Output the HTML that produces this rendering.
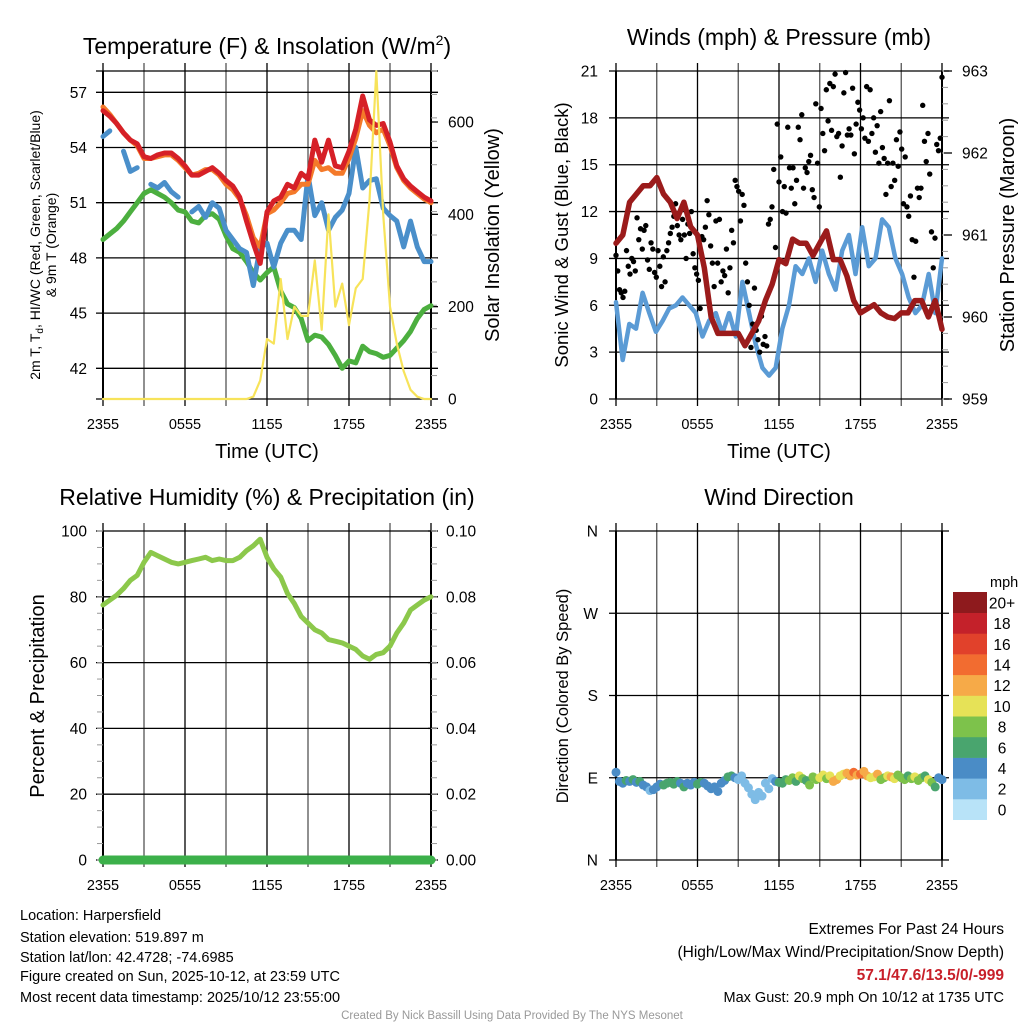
<!DOCTYPE html>
<html><head><meta charset="utf-8"><style>
body{margin:0;background:#fff}
svg{display:block;font-family:"Liberation Sans",Arial,sans-serif}
</style></head><body>
<svg id="s" width="1024" height="1024" viewBox="0 0 1024 1024" xmlns="http://www.w3.org/2000/svg">
<rect width="1024" height="1024" fill="#fff"/>
<text x="267" y="54" font-size="23" text-anchor="middle">Temperature (F) &amp; Insolation (W/m<tspan font-size="14" dy="-9">2</tspan><tspan dy="9">)</tspan></text>
<text x="779" y="45" font-size="23" text-anchor="middle">Winds (mph) &amp; Pressure (mb)</text>
<text x="267" y="505" font-size="23" text-anchor="middle">Relative Humidity (%) &amp; Precipitation (in)</text>
<text x="779" y="505" font-size="23" text-anchor="middle">Wind Direction</text>

<text transform="translate(40,245) rotate(-90)" font-size="14" text-anchor="middle">2m T, T<tspan font-size="10" dy="3">d</tspan><tspan dy="-3">, HI/WC (Red, Green, Scarlet/Blue)</tspan></text>
<text transform="translate(56,245) rotate(-90)" font-size="14" text-anchor="middle">&amp; 9m T (Orange)</text>
<text transform="translate(499,235) rotate(-90)" font-size="20" text-anchor="middle">Solar Insolation (Yellow)</text>
<text transform="translate(568,235) rotate(-90)" font-size="18.5" text-anchor="middle">Sonic Wind &amp; Gust (Blue, Black)</text>
<text transform="translate(1014,235) rotate(-90)" font-size="20" text-anchor="middle">Station Pressure (Maroon)</text>
<text transform="translate(44,696) rotate(-90)" font-size="20" text-anchor="middle">Percent &amp; Precipitation</text>
<text transform="translate(568,696) rotate(-90)" font-size="16.5" text-anchor="middle">Direction (Colored By Speed)</text>
<text x="267" y="458" font-size="20" text-anchor="middle">Time (UTC)</text>
<text x="779" y="458" font-size="20" text-anchor="middle">Time (UTC)</text>

<g font-size="14.5">
<text x="20" y="920">Location: Harpersfield</text>
<text x="20" y="942">Station elevation: 519.897 m</text>
<text x="20" y="962">Station lat/lon: 42.4728; -74.6985</text>
<text x="20" y="981">Figure created on Sun, 2025-10-12, at 23:59 UTC</text>
<text x="20" y="1002">Most recent data timestamp: 2025/10/12 23:55:00</text>
</g>
<g text-anchor="end">
<text x="1004" y="934" font-size="15.5">Extremes For Past 24 Hours</text>
<text x="1004" y="957" font-size="15.5">(High/Low/Max Wind/Precipitation/Snow Depth)</text>
<text x="1004" y="980" font-size="15.5" font-weight="bold" fill="#c8202a">57.1/47.6/13.5/0/-999</text>
<text x="1004" y="1002" font-size="14.5">Max Gust: 20.9 mph On 10/12 at 1735 UTC</text>
</g>
<text x="512" y="1019" font-size="11.5" fill="#999" text-anchor="middle">Created By Nick Bassill Using Data Provided By The NYS Mesonet</text>
<g id="g"></g>
</svg>
<script>
const timeLabels=["2355","0555","1155","1755","2355"];
const tempRed=[56.0,55.7,55.3,54.8,54.4,54.2,53.5,53.4,53.6,53.7,53.7,53.4,53.0,52.5,52.5,52.7,52.9,52.6,52.2,51.9,51.3,50.0,48.8,47.7,50.5,51.1,51.3,52.0,51.8,52.6,52.3,54.4,53.2,54.4,53.0,52.9,53.8,55.0,56.8,55.5,55.2,55.3,54.3,53.0,52.3,51.9,51.6,51.3,51.1];
const tempOrange=[56.2,55.8,55.3,54.8,54.4,54.1,53.4,53.4,53.5,53.6,53.6,53.3,52.9,52.5,52.6,52.8,52.8,52.5,52.0,51.7,51.2,50.3,49.1,48.6,50.4,50.6,51.0,51.5,51.6,52.0,52.0,53.3,52.8,52.9,52.6,52.6,53.4,54.5,56.0,55.2,54.8,55.0,54.1,52.9,52.2,51.8,51.5,51.2,51.0];
const tempBlue=[54.6,54.9,null,53.8,52.7,52.9,null,52.0,51.8,52.1,51.6,51.3,null,50.5,50.8,50.2,51.0,50.7,49.5,49.0,48.5,48.3,46.5,48.6,48.8,47.5,48.8,49.5,49.5,49.0,52.5,50.3,51.0,49.5,50.2,50.6,51.5,54.0,51.8,52.2,52.3,50.7,50.3,50.0,48.6,50.0,48.6,47.8,47.8];
const tempDew=[49.0,49.3,49.6,50.0,50.5,51.0,51.5,51.7,51.5,51.3,51.0,50.6,50.5,50.0,49.9,50.3,50.4,50.1,49.2,48.5,48.3,47.8,47.2,46.8,47.2,47.5,46.2,45.5,45.3,44.7,43.5,43.8,43.7,43.3,42.7,42.0,42.4,42.3,43.2,42.9,42.8,42.6,42.7,43.1,43.5,44.0,44.7,45.2,45.4];
const solar=[0,0,0,0,0,0,0,0,0,0,0,0,0,0,0,0,0,0,0,0,0,0,5,40,130,120,260,130,200,180,180,300,150,400,200,250,160,240,260,430,710,400,200,120,60,20,5,0,0];
const tempTicks=[42,45,48,51,54,57];
const solarTicks=[0,200,400,600];
const windSpd=[6.2,2.5,4.8,4.5,6.8,5.5,4.3,5.0,5.8,6.0,6.5,6.0,5.5,4.0,5.0,5.5,4.2,5.5,4.0,7.5,5.5,3.5,2.0,1.5,2.0,4.5,6.0,8.5,8.0,9.0,7.5,9.5,8.0,7.0,9.5,10.5,8.0,11.0,8.5,9.0,11.5,11.0,9.0,8.0,6.5,5.5,6.0,8.0,5.5,9.0];
const pressure=[960.9,961.0,961.4,961.5,961.6,961.6,961.7,961.5,961.4,961.2,961.4,961.1,961.0,960.6,960.0,959.8,959.8,959.8,959.8,959.65,959.8,959.95,960.2,960.4,960.7,960.65,960.95,960.9,960.9,960.75,960.9,961.05,960.7,960.7,960.5,960.2,960.05,960.1,960.15,960.05,960.0,959.98,960.05,960.05,960.2,960.2,960.0,960.2,959.85];
const gusts=[9.2,8.2,7,6.8,6.5,6.9,9.5,8.5,8.0,9.0,8.8,8.2,11.6,10.2,10.9,9.6,10.8,11.1,8.9,8.3,10.0,9.6,8.1,7.8,9.5,8.5,7.2,9.1,7.5,9.5,10.0,10.6,11.0,11.7,12.5,11.1,10.5,10.2,11.5,10.5,9.0,11.2,10.6,12.0,9.3,8.4,8.0,7.6,5.8,10.4,10.2,11.0,12.7,11.8,9.8,8.7,7.2,11.4,8.7,11.5,7.5,8.2,7.9,9.6,6.8,8.4,10.8,10.0,14.0,13.6,13.3,11.4,13.1,12.4,8.7,7.5,6.0,3.3,4.8,7.1,4.4,3.8,3.0,5.3,3.5,4.0,3.4,11.2,11.5,12.3,14.7,9.7,17.6,13.9,15.5,12.0,13.6,11.9,17.4,14.8,13.5,14.8,12.5,14.0,17.4,16.6,18.2,13.5,14.8,14.5,15.2,15.6,13.4,12.9,18.9,15.1,12.3,18.6,17.0,15.9,19.8,17.8,20.2,17.2,20.0,20.8,16.8,17.0,14.2,16.2,19.6,20.9,16.9,17.3,16.9,19.9,15.7,17.6,19.0,18.5,17.3,18.0,16.7,20.0,16.5,19.8,17.0,18.0,15.8,17.5,15.1,18.4,16.1,15.4,13.1,15.1,19.1,13.6,15.1,14.0,16.6,14.9,17.1,16.0,12.5,15.5,12.3,11.7,13.0,10.2,7.8,10.1,13.5,12.9,13.5,18.8,16.5,15.2,17.0,14.4,10.7,8.4,10.3,16.3,15.9,16.7,20.6];
const windTicks=[0,3,6,9,12,15,18,21];
const pressTicks=[959,960,961,962,963];
const rh=[77.5,79,80.5,82.5,85,86.5,90.5,93.5,92.5,91.5,90.5,90,90.5,91,91.5,92,91,91.5,91,91,92,94,95.5,97.5,92,88.5,86,81,78,74,72,70,69,67,66.5,66,65,64,62,61,62.5,63,65,69,72,76,77.5,79,80];
const precip=[0,0,0,0,0,0,0,0,0,0,0,0,0,0,0,0,0,0,0,0,0,0,0,0,0];
const rhTicks=[0,20,40,60,80,100];
const precipTicks=["0.00","0.02","0.04","0.06","0.08","0.10"];
const windDir=[96,86,84,87,86,88,85,86,82,80,76,77,80,83,82,84,85,83,86,84,80,84,82,85,83,85,84,81,78,80,75,84,87,91,92,90,88,92,84,79,72,66,74,70,84,78,89,86,85,84,88,87,90,86,92,89,87,82,91,88,90,93,89,92,86,88,92,94,95,92,96,93,94,97,92,90,91,94,88,90,92,91,89,93,90,88,92,89,91,87,90,92,88,85,80,90,88];
const dirSpd=[4,5,4,6,5,6,5,6,4,4,3,4,5,6,6,6,6,6,5,6,5,4,5,6,6,5,4,5,4,4,4,5,6,7,5,3,2,2,3,3,2,3,2,2,3,5,6,6,7,8,9,7,10,8,7,8,9,8,10,8,11,13,12,10,11,13,12,14,13,14,13,12,10,11,12,9,8,10,13,10,8,9,7,8,10,9,8,7,10,8,6,5,4];
const dirLabels=["N","E","S","W","N"];
const speedBins=["0","2","4","6","8","10","12","14","16","18","20+"];
const speedColors=["#b8e3f8","#7ebce6","#4a8cc6","#49a56e","#7dc24b","#e6e257","#f6aa48","#f26c30","#e1412b","#c4212a","#8e1a1d"];

const NS="http://www.w3.org/2000/svg";
const G=document.getElementById('g');
function mk(tag,attrs,parent){const e=document.createElementNS(NS,tag);for(const k in attrs)e.setAttribute(k,attrs[k]);(parent||G).appendChild(e);return e;}
function xScale(x0,x1,n){return i=>x0+i/(n-1)*(x1-x0);}
function lin(d0,d1,p0,p1){return v=>p0+(v-d0)/(d1-d0)*(p1-p0);}

function frame(x0,y0,x1,y1,name){
  const g=mk('g',{});
  
  
  for(let k=0;k<=8;k++){const x=x0+k*(x1-x0)/8;
    const l=mk('line',{x1:x,y1:y0-8,x2:x,y2:y1+7,stroke:k%2?'#555':'#000','stroke-width':1.3},g);
    
    }
  timeLabels.forEach((t,k)=>{const tx=mk('text',{x:x0+k*(x1-x0)/4,y:y1+30,'font-size':14.5,'text-anchor':'middle'},g);tx.textContent=t;
    
    });
  mk('line',{x1:x0,y1:y0,x2:x0,y2:y1,stroke:'#000','stroke-width':2},g);
  mk('line',{x1:x1,y1:y0,x2:x1,y2:y1,stroke:'#000','stroke-width':2},g);
  return g;
}
function hgrid(g,x0,x1,y){
  const l=mk('line',{x1:x0-7,y1:y,x2:x1+7,y2:y,stroke:'#000','stroke-width':1.3},g);
  
  
}
function leftLabel(g,x,y,t){const tx=mk('text',{x:x,y:y+5.5,'font-size':15.5,'text-anchor':'end'},g);tx.textContent=t;
  
  }
function rightLabel(g,x,y,t){mk('line',{x1:x-18,y1:y,x2:x-10,y2:y,stroke:'#000','stroke-width':1.3},g);
  const tx=mk('text',{x:x,y:y+5.5,'font-size':15.5},g);tx.textContent=t;
  
  }
function minorTicks(g,x,y0,y1,n){for(let k=0;k<=n;k++){const y=y0+k*(y1-y0)/n;mk('line',{x1:x,y1:y,x2:x+6,y2:y,stroke:'#999','stroke-width':1},g);}}
function path(vals,xs,ys,color,w,name){
  let d='',pen=false;
  vals.forEach((v,i)=>{if(v===null){pen=false;return;}d+=(pen?'L':'M')+xs(i).toFixed(1)+' '+ys(v).toFixed(1);pen=true;});
  const p=mk('path',{d:d,fill:'none',stroke:color,'stroke-width':w,'stroke-linejoin':'round','stroke-linecap':'round'});
  
  
  return p;
}

(function(){
  const x0=103,x1=431,y0=71,y1=399;
  const g=frame(x0,y0,x1,y1,'temperature-panel');
  const yT=lin(42,57,368.3,92.3), yS=lin(0,600,399,122);
  tempTicks.forEach(v=>{hgrid(g,x0,x1,yT(v));leftLabel(g,87,yT(v),String(v));});
  hgrid(g,x0,x1,y0);hgrid(g,x0,x1,y1);
  minorTicks(g,x1,y0,y1,14);
  solarTicks.forEach(v=>rightLabel(g,448,yS(v),String(v)));
  const n=tempRed.length,xs=xScale(x0,x1,n);
  path(tempDew,xs,yT,'#4caf3f',5,'dewpoint-line');
  path(tempBlue,xs,yT,'#4a8fca',5,'wind-chill-line');
  path(tempOrange,xs,yT,'#f47a2a',5,'temp-9m-line');
  path(tempRed,xs,yT,'#d62027',5,'temp-2m-line');
  path(solar,xScale(x0,x1,solar.length),yS,'#f7e35a',2.2,'solar-line');
})();

(function(){
  const x0=616,x1=942,y0=71,y1=399;
  const g=frame(x0,y0,x1,y1,'winds-panel');
  const yW=lin(0,21,399,71), yP=lin(959,963,399,71);
  windTicks.forEach(v=>{hgrid(g,x0,x1,yW(v));leftLabel(g,598,yW(v),String(v));});
  minorTicks(g,x1,y0,y1,20);
  pressTicks.forEach(v=>rightLabel(g,962,yP(v),String(v)));
  path(windSpd,xScale(x0,x1,windSpd.length),yW,'#5b9bd5',4.5,'sonic-wind-line');
  const xg=xScale(x0,x1,gusts.length);
  gusts.forEach((v,i)=>{const c=mk('circle',{cx:xg(i),cy:yW(v),r:2.7,fill:'#000'});
    
    });
  path(pressure,xScale(x0,x1,pressure.length),yP,'#9b1b1b',5.5,'pressure-line');
})();

(function(){
  const x0=103,x1=431,y0=531,y1=860;
  const g=frame(x0,y0,x1,y1,'humidity-panel');
  const yR=lin(0,100,860,531);
  rhTicks.forEach((v,k)=>{hgrid(g,x0,x1,yR(v));leftLabel(g,87,yR(v),String(v));rightLabel(g,446,yR(v),precipTicks[k]);});
  minorTicks(g,x1,y0,y1,20);
  for(let k=0;k<=20;k++){const y=y0+k*(y1-y0)/20;mk('line',{x1:x0-6,y1:y,x2:x0,y2:y,stroke:'#999','stroke-width':1},g);}
  path(rh,xScale(x0,x1,rh.length),yR,'#8cc84b',5,'humidity-line');
  const yPr=lin(0,0.1,860,531);
  path(precip,xScale(x0,x1,precip.length),yPr,'#3cb04a',9,'precip-line');
})();

(function(){
  const x0=616,x1=942,y0=531,y1=860;
  const g=frame(x0,y0,x1,y1,'wind-direction-panel');
  const yD=lin(0,360,860,531);
  dirLabels.forEach((t,k)=>{const y=yD(k*90);hgrid(g,x0,x1,y);leftLabel(g,598,y,t);});
  const xd=xScale(x0,x1,windDir.length);
  windDir.forEach((v,i)=>{
    const s=dirSpd[Math.round(i/(windDir.length-1)*(dirSpd.length-1))];
    const c=mk('circle',{cx:xd(i),cy:yD(v),r:4.5,fill:speedColors[Math.min(10,Math.floor(s/2))]});
    
    
  });
  const lg=mk('g',{});
  
  
  const t=mk('text',{x:990,y:587,'font-size':14.5},lg);t.textContent='mph';
  const top=592,h=20.7;
  speedBins.forEach((b,k)=>{
    const y=top+(10-k)*h;
    const r=mk('rect',{x:953,y:y,width:34,height:h+0.3,fill:speedColors[k]},lg);
    
    
    const tx=mk('text',{x:1002,y:y+h/2+6,'font-size':15.5,'text-anchor':'middle'},lg);tx.textContent=b;
    
    
  });
})();
</script>
</body></html>
